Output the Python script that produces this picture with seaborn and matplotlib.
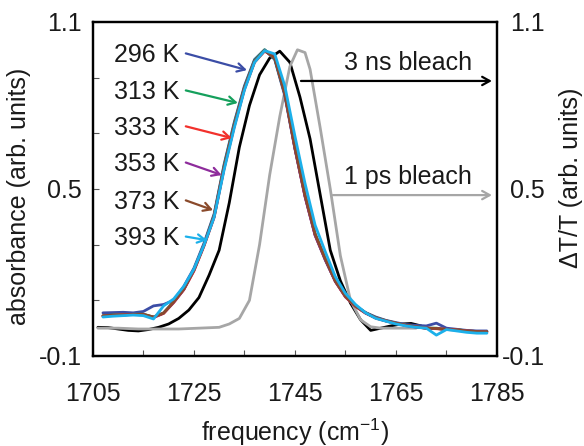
import matplotlib
matplotlib.use("Agg")
import matplotlib.pyplot as plt
import numpy as np
import pandas as pd
import seaborn as sns

# ---------------- data ----------------
freq = [1707, 1709, 1711, 1713, 1715, 1717, 1719, 1721, 1723, 1725, 1727, 1729, 1731,
        1733, 1735, 1737, 1739, 1741, 1743, 1745, 1747, 1749, 1751, 1753, 1755, 1757,
        1759, 1761, 1763, 1765, 1767, 1769, 1771, 1773, 1775, 1777, 1779, 1781, 1783]

temps = ["296 K", "313 K", "333 K", "353 K", "373 K", "393 K"]
temp_colors = ["#3b4da6", "#15a05c", "#f2312c", "#8e2c9c", "#8a4a2b", "#1cb0ea"]

abs_296 = [0.055, 0.056, 0.057, 0.055, 0.060, 0.080, 0.085, 0.100, 0.150, 0.215, 0.305, 0.410, 0.590,
           0.740, 0.870, 0.965, 1.000, 0.965, 0.835, 0.645, 0.475, 0.335, 0.245, 0.168, 0.115, 0.080,
           0.056, 0.040, 0.028, 0.020, 0.013, 0.010, 0.008, 0.018, 0.000, -0.004, -0.008, -0.010, -0.010]
abs_313 = [0.045, 0.047, 0.048, 0.050, 0.050, 0.040, 0.055, 0.095, 0.140, 0.210, 0.300, 0.405, 0.585,
           0.735, 0.865, 0.962, 1.000, 0.968, 0.840, 0.650, 0.480, 0.340, 0.250, 0.170, 0.115, 0.080,
           0.055, 0.038, 0.027, 0.018, 0.010, 0.005, 0.000, 0.000, -0.005, -0.005, -0.010, -0.012, -0.012]
abs_333 = [0.044, 0.046, 0.048, 0.049, 0.048, 0.038, 0.053, 0.092, 0.138, 0.205, 0.295, 0.398, 0.575,
           0.725, 0.858, 0.955, 0.995, 0.975, 0.845, 0.648, 0.475, 0.335, 0.248, 0.168, 0.112, 0.078,
           0.054, 0.036, 0.026, 0.017, 0.010, 0.004, 0.000, -0.002, -0.004, -0.006, -0.010, -0.012, -0.014]
abs_353 = [0.043, 0.046, 0.047, 0.050, 0.049, 0.039, 0.054, 0.093, 0.139, 0.208, 0.298, 0.400, 0.578,
           0.728, 0.860, 0.958, 0.997, 0.972, 0.842, 0.645, 0.472, 0.333, 0.247, 0.168, 0.113, 0.079,
           0.054, 0.037, 0.026, 0.017, 0.009, 0.004, 0.000, -0.001, -0.005, -0.006, -0.010, -0.012, -0.013]
abs_373 = [0.044, 0.047, 0.048, 0.049, 0.050, 0.040, 0.054, 0.094, 0.140, 0.208, 0.298, 0.402, 0.580,
           0.730, 0.862, 0.958, 0.998, 0.970, 0.842, 0.648, 0.476, 0.337, 0.249, 0.169, 0.114, 0.079,
           0.055, 0.037, 0.026, 0.018, 0.010, 0.005, 0.000, -0.001, -0.005, -0.006, -0.010, -0.012, -0.013]
abs_393 = [0.040, 0.043, 0.045, 0.047, 0.045, 0.033, 0.080, 0.105, 0.150, 0.212, 0.298, 0.398, 0.570,
           0.720, 0.855, 0.955, 0.997, 0.985, 0.870, 0.690, 0.520, 0.370, 0.275, 0.185, 0.125, 0.085,
           0.055, 0.035, 0.025, 0.015, 0.008, 0.003, 0.000, -0.025, -0.005, -0.010, -0.015, -0.018, -0.018]
absorbance = [abs_296, abs_313, abs_333, abs_353, abs_373, abs_393]

freq_3ns = [1706, 1708, 1710, 1712, 1714, 1716, 1718, 1720, 1722, 1724, 1726, 1728, 1730, 1732,
            1734, 1736, 1738, 1740, 1742, 1744, 1746, 1748, 1750, 1752, 1754, 1756, 1758, 1760,
            1762, 1764, 1766, 1768, 1770]
bleach_3ns = [0.003, 0.002, -0.003, -0.008, -0.010, -0.005, 0.003, 0.015, 0.035, 0.065, 0.110, 0.190,
              0.280, 0.450, 0.650, 0.800, 0.910, 0.970, 0.995, 0.955, 0.830, 0.680, 0.480, 0.280,
              0.170, 0.090, 0.030, -0.008, 0.000, 0.008, 0.015, 0.017, 0.008]

freq_1ps = [1706, 1710, 1714, 1718, 1722, 1726, 1730, 1732, 1734, 1736, 1738, 1740, 1742, 1744,
            1745.5, 1747, 1748, 1750, 1752, 1754, 1756, 1758, 1760, 1762, 1766, 1769]
bleach_1ps = [0.000, 0.000, -0.003, -0.003, -0.003, 0.000, 0.003, 0.015, 0.035, 0.100, 0.300, 0.550,
              0.760, 0.940, 1.000, 0.990, 0.930, 0.720, 0.500, 0.260, 0.100, 0.030, 0.005, 0.000,
              0.000, 0.000]

# label / arrow anchors (data coords)
label_y = [0.981, 0.848, 0.719, 0.589, 0.453, 0.323]
arrow_head = [(1735.5, 0.927), (1733.7, 0.809), (1732.5, 0.683),
              (1730.5, 0.550), (1728.8, 0.424), (1727.6, 0.316)]

# ---------------- style ----------------
sns.set_theme(style="white")
plt.rcParams['font.family'] = ['Liberation Sans', 'DejaVu Sans']
plt.rcParams['mathtext.fontset'] = 'custom'
plt.rcParams['mathtext.rm'] = 'Liberation Sans'
plt.rcParams['mathtext.it'] = 'Liberation Sans:italic'
FS = 18
TXT = "#1a1a1a"

fig = plt.figure(figsize=(5.84, 4.46), dpi=100)
ax = fig.add_axes([0.159, 0.2018, 0.692, 0.749])
ax2 = ax.twinx()
ax.set_zorder(ax2.get_zorder() + 1)
ax.patch.set_visible(False)

# bleach curves on right axis
sns.lineplot(x=freq_3ns, y=bleach_3ns, ax=ax2, color="black", lw=2.0, sort=False, estimator=None)
sns.lineplot(x=freq_1ps, y=bleach_1ps, ax=ax2, color="#a6a6a6", lw=2.0, sort=False, estimator=None)

# temperature-dependent absorbance on left axis
df = pd.DataFrame({
    "frequency": freq * len(temps),
    "absorbance": sum(absorbance, []),
    "T": sum([[t] * len(freq) for t in temps], []),
})
sns.lineplot(data=df, x="frequency", y="absorbance", hue="T", hue_order=temps,
             palette=temp_colors, ax=ax, lw=2.0, sort=False, estimator=None, legend=False)

for a in (ax, ax2):
    a.set_xlim(1705, 1785)
    a.set_ylim(-0.1, 1.1)
    for s in a.spines.values():
        s.set_linewidth(1.6)
        s.set_color("black")

ax.set_xticks([1705, 1725, 1745, 1765, 1785])
ax.set_xticks([1715, 1735, 1755, 1775], minor=True)
ax.set_yticks([-0.1, 0.1, 0.3, 0.5, 0.7, 0.9, 1.1])
ax.set_yticklabels(["-0.1", "", "", "0.5", "", "", "1.1"])
ax.tick_params(axis="x", which="both", direction="in", length=4, width=0.8,
               color="#555555", labelsize=FS, labelcolor=TXT, pad=19, bottom=True)
ax.tick_params(axis="y", which="both", direction="in", length=4, width=0.8,
               color="#555555", labelsize=FS, labelcolor=TXT, pad=8, left=True)
ax.set_xlabel("frequency (cm$^{-1}$)", fontsize=FS, color=TXT, labelpad=7)
ax.set_ylabel("absorbance (arb. units)", fontsize=FS, color=TXT)
ax.yaxis.set_label_coords(-0.153, 0.479)

ax2.set_yticks([-0.1, 0.5, 1.1])
ax2.set_yticklabels(["-0.1", "0.5", "1.1"])
ax2.tick_params(axis="y", direction="in", length=0, labelsize=FS, labelcolor=TXT, pad=34.5, right=True)
for t in ax2.get_yticklabels():
    t.set_horizontalalignment("right")
ax2.set_ylabel("ΔT/T (arb. units)", fontsize=FS, color=TXT)
ax2.yaxis.set_label_coords(1.153, 0.533)

# temperature labels with arrows
for t, c, ly, head in zip(temps, temp_colors, label_y, arrow_head):
    ax.text(1722.2, ly, t, fontsize=FS, ha="right", va="center", color=TXT)
    ax.annotate("", xy=head, xytext=(1723.4, ly + 0.006),
                arrowprops=dict(arrowstyle="->,head_length=0.45,head_width=0.25",
                                color=c, lw=1.6, shrinkA=0, shrinkB=0))

# bleach labels with arrows
ax.text(1767.4, 0.953, "3 ns bleach", fontsize=FS, ha="center", va="center", color=TXT)
ax.annotate("", xy=(1784, 0.888), xytext=(1746.2, 0.888),
            arrowprops=dict(arrowstyle="->,head_length=0.45,head_width=0.25",
                            color="black", lw=1.6, shrinkA=0, shrinkB=0))
ax.text(1767.4, 0.542, "1 ps bleach", fontsize=FS, ha="center", va="center", color=TXT)
ax.annotate("", xy=(1784, 0.478), xytext=(1752.5, 0.478),
            arrowprops=dict(arrowstyle="->,head_length=0.45,head_width=0.25",
                            color="#a6a6a6", lw=1.6, shrinkA=0, shrinkB=0))

fig.savefig("out.png", dpi=100)
